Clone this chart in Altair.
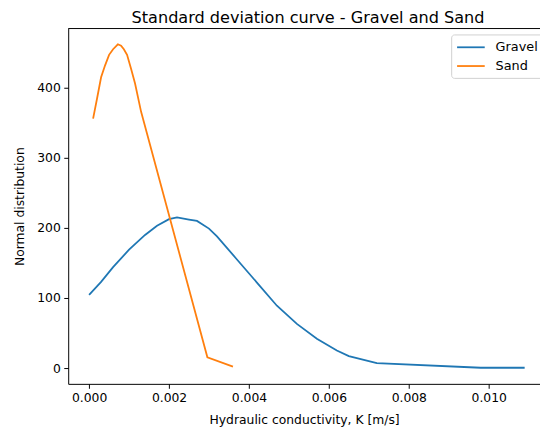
import altair as alt
import pandas as pd

# Data
gravel_k = [0.0, 0.0003, 0.0006, 0.0010, 0.0014, 0.0017, 0.0020, 0.0022, 0.0025,
            0.0027, 0.0030, 0.0032, 0.0037, 0.0042, 0.0047, 0.0052, 0.0057, 0.0062,
            0.0065, 0.0072, 0.0098, 0.0109]
gravel_pdf = [104.5, 123, 144, 169, 190, 203, 212.5, 215, 212, 210, 199, 188, 155,
              122, 89, 63, 42, 25, 17, 7, 0.5, 0.5]

sand_k = [0.0001, 0.0002, 0.0003, 0.0004, 0.0005, 0.0006, 0.00072, 0.0008, 0.00087,
          0.00095, 0.00105, 0.00115, 0.0013, 0.00296, 0.0036]
sand_pdf = [356, 385, 415, 432, 447, 455, 462, 460, 455, 447, 427, 406, 366, 15.5, 2]

series = ["Gravel", "Sand"]
colors = ["#1f77b4", "#ff7f0e"]
x_ticks = [0.0, 0.002, 0.004, 0.006, 0.008, 0.010]
y_ticks = [0, 100, 200, 300, 400]

rows = []
for i, (k, p) in enumerate(zip(gravel_k, gravel_pdf)):
    rows.append({"K": k, "pdf": p, "series": "Gravel", "order": i})
for i, (k, p) in enumerate(zip(sand_k, sand_pdf)):
    rows.append({"K": k, "pdf": p, "series": "Sand", "order": i})
df = pd.DataFrame(rows)

W, H = 478, 360
FONT = "DejaVu Sans"

lines = alt.Chart(df).mark_line(strokeWidth=1.8).encode(
    x=alt.X("K:Q",
            scale=alt.Scale(domain=[-0.000523, 0.011284], nice=False, zero=False),
            axis=alt.Axis(values=x_ticks, format=".3f",
                          title="Hydraulic conductivity, K [m/s]", titlePadding=10)),
    y=alt.Y("pdf:Q",
            scale=alt.Scale(domain=[-22.5, 484.5], nice=False, zero=False),
            axis=alt.Axis(values=y_ticks, format="d",
                          title="Normal distribution", titlePadding=10)),
    color=alt.Color("series:N",
                    scale=alt.Scale(domain=series, range=colors),
                    legend=alt.Legend(orient="none", legendX=388, legendY=6,
                                      title=None, symbolType="M-1,0L3,0",
                                      symbolSize=196, symbolStrokeWidth=1.8,
                                      labelFont=FONT, labelFontSize=13,
                                      labelColor="black", labelOffset=24,
                                      strokeColor="#d0d0d0", fillColor="white",
                                      cornerRadius=3, padding=5, rowPadding=4)),
    order="order:Q",
)

top = alt.Chart(pd.DataFrame({"a": [0]})).mark_rule(color="black", strokeWidth=1).encode(
    x=alt.value(0), x2=alt.value(W), y=alt.value(0)
)

chart = alt.layer(top, lines).properties(
    width=W, height=H,
    title=alt.TitleParams("Standard deviation curve - Gravel and Sand",
                          font=FONT, fontSize=16.3, fontWeight="normal",
                          color="black", offset=2, dx=4),
    autosize=alt.AutoSizeParams(type="none"),
    padding={"left": 61, "top": 18, "right": 0, "bottom": 48},
).configure_view(stroke=None).configure_axis(
    labelFont=FONT, labelFontSize=12.5, labelColor="black",
    titleFont=FONT, titleFontSize=12.5, titleFontWeight="normal", titleColor="black",
    tickColor="black", tickSize=4.5, tickWidth=1, domainColor="black", domainWidth=1,
    labelPadding=3.5, grid=False,
)

chart.save("out.html", embed_options={"renderer": "svg", "actions": False})
